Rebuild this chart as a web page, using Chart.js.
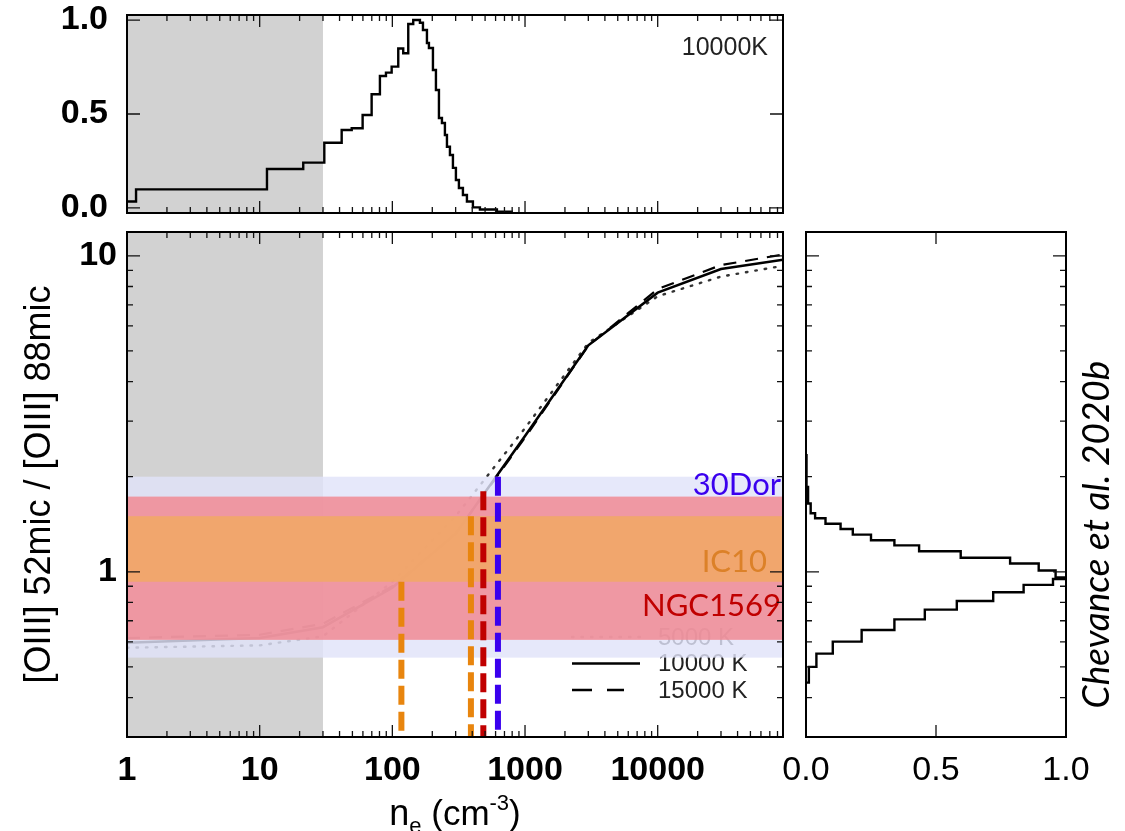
<!DOCTYPE html>
<html>
<head>
<meta charset="utf-8">
<title>[OIII] 52/88 density diagnostic</title>
<script src="https://cdn.jsdelivr.net/npm/chart.js@4.4.1/dist/chart.umd.min.js"></script>
<style>
  html, body { margin: 0; padding: 0; background: #fff; }
  #wrap { position: relative; width: 1125px; height: 831px; }
  #wrap canvas { position: absolute; left: 0; top: 0; }
</style>
</head>
<body>
<div id="wrap">
  <canvas id="top" width="1125" height="831"></canvas>
  <canvas id="main" width="1125" height="831"></canvas>
  <canvas id="side" width="1125" height="831"></canvas>
</div>
<script>
/* ---------------------------------------------------------------- */
/*  data                                                            */
/* ---------------------------------------------------------------- */
// line ratio vs electron density for three temperatures
const neGrid   = [1, 10, 30, 100, 300, 1000, 3000, 10000, 30000, 88000];
const ratio5k  = [0.575, 0.585, 0.625, 0.93, 1.50, 2.85, 5.30, 7.45, 8.60, 9.30];
const ratio10k = [0.596, 0.617, 0.668, 0.89, 1.32, 2.69, 5.21, 7.65, 9.09, 9.72];
const ratio15k = [0.617, 0.632, 0.685, 0.90, 1.32, 2.66, 5.20, 7.85, 9.35, 10.1];

// density PDF (10000 K), bin edges in cm^-3 and normalised counts
const topEdges = [1, 1.17, 11.35, 21.3, 30.7, 41.5, 49.4, 59.7, 69.8, 80.6,
                  89.5, 98.8, 110.8, 120.8, 131.8, 143.7, 161.4, 170.1, 182.3, 188.7,
                  202.3, 213.1, 224.5, 236.5, 249, 258, 271.7, 286.2, 301.4, 317.5,
                  340.4, 364.9, 404.8, 457.2, 614, 810];
const topFrac  = [0.034, 0.099, 0.207, 0.241, 0.347, 0.415, 0.424, 0.495, 0.605, 0.702,
                  0.72, 0.752, 0.849, 0.823, 0.979, 1.0, 0.986, 0.947, 0.878, 0.851,
                  0.734, 0.628, 0.479, 0.452, 0.388, 0.326, 0.282, 0.213, 0.149, 0.106,
                  0.069, 0.034, 0.003, -0.008, -0.02];

// ratio PDF, bin edges in line ratio (top to bottom) and normalised counts
const sideEdges = [2.36, 1.857, 1.646, 1.532, 1.478, 1.420, 1.366, 1.311, 1.259, 1.212,
                   1.161, 1.108, 1.062, 1.009, 0.960, 0.949, 0.909, 0.862, 0.808, 0.759,
                   0.707, 0.654, 0.601, 0.551, 0.500, 0.446];
const sideFrac  = [0.002, 0.008, 0.018, 0.035, 0.075, 0.133, 0.180, 0.250, 0.340, 0.435,
                   0.595, 0.785, 0.895, 0.960, 1.000, 0.950, 0.837, 0.720, 0.580, 0.457,
                   0.340, 0.214, 0.103, 0.040, 0.011];

// observed ratio ranges per galaxy
const bandNames = ['30Dor', 'NGC1569', 'IC10'];
const bandLo    = [0.535, 0.609, 0.93];
const bandHi    = [2.0, 1.73, 1.5];

// densities
const markerNe  = [117, 391, 485, 625];
const markerTop = [0.93, 1.5, 1.8, 2.0];

const shadeNe   = [1, 30];          // low-density region
const xLabels   = [1, 10, 100, 1000, 10000];
const yLabels   = [1, 10];
const fracTicks = [0, 0.5, 1];

/* ---------------------------------------------------------------- */
/*  style                                                           */
/* ---------------------------------------------------------------- */
const FONT  = '"Liberation Sans", Arial, sans-serif';
const SANS2 = 'Lato, "Open Sans", sans-serif';
const SHADE = '#d2d2d2';
const bandFill    = ['rgba(224,227,249,0.82)', 'rgba(242,134,144,0.82)', 'rgba(242,169,98,0.82)'];
const markerColor = ['#e8850e', '#e8850e', '#c00000', '#3a00ee'];
const NE_MAX = 88000, R_MIN = 0.314, R_MAX = 11.9;

/* helper: decade / sub-decade ticks for log axes ------------------- */
function logTicks(min, max) {
  const major = [], minor = [];
  for (let e = Math.floor(Math.log10(min)); e <= Math.ceil(Math.log10(max)); e++) {
    for (let m = 1; m <= 9; m++) {
      const v = m * Math.pow(10, e);
      if (v < min * 0.999 || v > max * 1.001) continue;
      (m === 1 ? major : minor).push(v);
    }
  }
  return { major, minor };
}
const neTicks = logTicks(1, NE_MAX);
const rTicks  = logTicks(R_MIN, R_MAX);

/* helper: IDL-style box with inward ticks on all four sides -------- */
function framePlugin(spec) {
  return {
    id: 'frame',
    afterDraw(chart) {
      const { ctx, chartArea: a, scales } = chart;
      ctx.save();
      ctx.strokeStyle = '#111';
      ctx.lineWidth = 1.3;
      const vert = (vals, len) => vals.forEach(v => {
        const p = scales.x.getPixelForValue(v);
        if (p < a.left + 1 || p > a.right - 1) return;
        ctx.beginPath();
        ctx.moveTo(p, a.bottom); ctx.lineTo(p, a.bottom - len);
        ctx.moveTo(p, a.top);    ctx.lineTo(p, a.top + len);
        ctx.stroke();
      });
      const horiz = (vals, len) => vals.forEach(v => {
        const p = scales.y.getPixelForValue(v);
        if (p < a.top + 1 || p > a.bottom - 1) return;
        ctx.beginPath();
        ctx.moveTo(a.left, p);  ctx.lineTo(a.left + len, p);
        ctx.moveTo(a.right, p); ctx.lineTo(a.right - len, p);
        ctx.stroke();
      });
      vert(spec.x.major, 12);  vert(spec.x.minor, 6);
      horiz(spec.y.major, 13); horiz(spec.y.minor, 6);
      ctx.lineWidth = 2;
      ctx.strokeStyle = '#000';
      ctx.strokeRect(a.left, a.top, a.right - a.left, a.bottom - a.top);
      ctx.restore();
    }
  };
}

function shadePlugin() {
  return {
    id: 'shade',
    beforeDatasetsDraw(chart) {
      const { ctx, chartArea: a, scales: { x } } = chart;
      const x0 = x.getPixelForValue(shadeNe[0]), x1 = x.getPixelForValue(shadeNe[1]);
      ctx.save();
      ctx.fillStyle = SHADE;
      ctx.fillRect(x0, a.top, x1 - x0, a.bottom - a.top);
      ctx.restore();
    }
  };
}

const fixTicks = list => s => { s.ticks = list.map(v => ({ value: v })); };
const fitW = w => s => { s.width = w; s.paddingTop = 0; s.paddingBottom = 0; };
const fitH = h => s => { s.height = h; s.paddingLeft = 0; s.paddingRight = 0; };
const tickFont = { family: FONT, size: 34, weight: 'bold', lineHeight: 1.2 };
const baseOpts = {
  responsive: false,
  animation: false,
  events: [],
  plugins: { legend: { display: false }, tooltip: { enabled: false } }
};

/* ================================================================ */
/*  1. density PDF (top)                                            */
/* ================================================================ */
const topPts = topEdges.slice(0, -1).map((e, i) => ({ x: e, y: topFrac[i] }));
topPts.push({ x: topEdges.at(-1), y: topFrac.at(-1) });

new Chart(document.getElementById('top'), {
  type: 'line',
  data: { datasets: [{ data: topPts, stepped: 'before', borderColor: '#000', borderWidth: 2.4, pointRadius: 0 }] },
  options: {
    ...baseOpts,
    layout: { padding: { left: 27, right: 342, top: 15, bottom: 618 } },
    scales: {
      x: { type: 'logarithmic', min: 1, max: NE_MAX, display: false, afterFit: fitH(0) },
      y: {
        type: 'linear', min: -0.027, max: 1.027,
        grid: { display: false, drawTicks: false }, border: { display: false },
        afterBuildTicks: fixTicks(fracTicks), afterFit: fitW(100),
        ticks: { font: tickFont, color: '#000', padding: 19, callback: v => v.toFixed(1) }
      }
    }
  },
  plugins: [
    shadePlugin(),
    framePlugin({ x: neTicks, y: { major: fracTicks, minor: [] } }),
    {
      id: 'tempTag',
      afterDraw(chart) {
        const { ctx, chartArea: a } = chart;
        ctx.save();
        ctx.font = `25px ${FONT}`;
        ctx.fillStyle = '#222';
        ctx.textAlign = 'right';
        ctx.textBaseline = 'alphabetic';
        ctx.fillText('10000K', a.right - 15, a.top + 40);
        ctx.restore();
      }
    }
  ]
});

/* ================================================================ */
/*  2. ratio vs density (main)                                      */
/* ================================================================ */
const curve = vals => neGrid.map((n, i) => ({ x: n, y: vals[i] }));
const legendRows = [
  { text: '5000 K',  dash: [1.5, 8], width: 2.4, color: '#444', len: 68 },
  { text: '10000 K', dash: [],       width: 2.6, color: '#000', len: 68 },
  { text: '15000 K', dash: [20, 15], width: 2.6, color: '#000', len: 52 }
];
const bandText = [
  { color: '#3a00ee', at: 1.94, inset: 2 },
  { color: '#c00000', at: 0.80, inset: 2 },
  { color: '#dc8128', at: 1.106, inset: 16 }
];

function drawXTitle(ctx, cx, base) {
  const parts = [
    { t: 'n',    size: 36, dy: 0 },
    { t: 'e',    size: 22, dy: 8 },
    { t: ' (cm', size: 35, dy: 0 },
    { t: '-3',   size: 22, dy: -15 },
    { t: ')',    size: 35, dy: 0 }
  ];
  let total = 0;
  parts.forEach(p => { ctx.font = `${p.size}px ${FONT}`; p.w = ctx.measureText(p.t).width; total += p.w; });
  let x = cx - total / 2;
  ctx.textAlign = 'left';
  ctx.textBaseline = 'alphabetic';
  parts.forEach(p => { ctx.font = `${p.size}px ${FONT}`; ctx.fillText(p.t, x, base + p.dy); x += p.w; });
}

new Chart(document.getElementById('main'), {
  type: 'line',
  data: {
    datasets: [
      { label: '10000 K', data: curve(ratio10k), borderColor: '#000', borderWidth: 2.6, pointRadius: 0 },
      { label: '15000 K', data: curve(ratio15k), borderColor: '#000', borderWidth: 2.2, borderDash: [13, 9], pointRadius: 0 },
      { label: '5000 K',  data: curve(ratio5k),  borderColor: '#333', borderWidth: 2.4, borderDash: [1.5, 8],
        borderCapStyle: 'round', pointRadius: 0 }
    ]
  },
  options: {
    ...baseOpts,
    layout: { padding: { left: 27, right: 342, top: 232, bottom: 0 } },
    scales: {
      x: {
        type: 'logarithmic', min: 1, max: NE_MAX,
        grid: { display: false, drawTicks: false }, border: { display: false },
        afterBuildTicks: fixTicks(xLabels), afterFit: fitH(94),
        ticks: { font: tickFont, color: '#000', padding: 13, maxRotation: 0, autoSkip: false, callback: v => String(v) }
      },
      y: {
        type: 'logarithmic', min: R_MIN, max: R_MAX,
        grid: { display: false, drawTicks: false }, border: { display: false },
        afterBuildTicks: fixTicks(yLabels), afterFit: fitW(100),
        ticks: { font: tickFont, color: '#000', padding: 10, callback: v => String(v) }
      }
    }
  },
  plugins: [
    shadePlugin(),
    {
      id: 'overlay',
      afterDatasetsDraw(chart) {
        const { ctx, chartArea: a, scales: { x, y } } = chart;
        ctx.save();

        /* legend (sits under the bands) */
        legendRows.forEach((row, i) => {
          const yy = a.bottom - 100 + i * 26.5;
          ctx.strokeStyle = row.color;
          ctx.lineWidth = row.width;
          ctx.lineCap = row.dash.length && row.dash[0] < 3 ? 'round' : 'butt';
          ctx.setLineDash(row.dash);
          ctx.beginPath(); ctx.moveTo(a.right - 211, yy); ctx.lineTo(a.right - 211 + row.len, yy); ctx.stroke();
          ctx.setLineDash([]);
          ctx.font = `24px ${FONT}`;
          ctx.fillStyle = '#222';
          ctx.textAlign = 'left';
          ctx.textBaseline = 'middle';
          ctx.fillText(row.text, a.right - 125, yy + 1);
        });
        ctx.lineCap = 'butt';

        /* observed ratio ranges */
        bandLo.forEach((lo, i) => {
          const yTop = y.getPixelForValue(bandHi[i]), yBot = y.getPixelForValue(lo);
          ctx.fillStyle = bandFill[i];
          ctx.fillRect(a.left, yTop, a.right - a.left, yBot - yTop);
        });

        /* read-off densities */
        ctx.lineWidth = 6;
        ctx.setLineDash([19, 7]);
        markerNe.forEach((n, i) => {
          const px = x.getPixelForValue(n);
          ctx.strokeStyle = markerColor[i];
          ctx.beginPath();
          ctx.moveTo(px, y.getPixelForValue(markerTop[i]));
          ctx.lineTo(px, a.bottom);
          ctx.stroke();
        });
        ctx.setLineDash([]);

        /* galaxy names */
        ctx.font = `31px ${SANS2}`;
        ctx.textAlign = 'right';
        ctx.textBaseline = 'middle';
        bandNames.forEach((name, i) => {
          ctx.fillStyle = bandText[i].color;
          ctx.fillText(name, a.right - bandText[i].inset, y.getPixelForValue(bandText[i].at) + 4);
        });
        ctx.restore();
      },
      afterDraw(chart) {
        const { ctx, chartArea: a } = chart;
        ctx.save();
        ctx.fillStyle = '#000';
        drawXTitle(ctx, (a.left + a.right) / 2, 825);
        ctx.translate(40, (a.top + a.bottom) / 2);
        ctx.rotate(-Math.PI / 2);
        ctx.font = `36px ${FONT}`;
        ctx.textAlign = 'center';
        ctx.textBaseline = 'middle';
        ctx.fillText('[OIII] 52mic / [OIII] 88mic', 0, 0);
        ctx.restore();
      }
    },
    framePlugin({ x: neTicks, y: rTicks })
  ]
});

/* ================================================================ */
/*  3. ratio PDF (right)                                            */
/* ================================================================ */
const sidePts = [{ x: 0, y: sideEdges[0] }];
sideFrac.forEach((v, i) => sidePts.push({ x: v, y: sideEdges[i] }, { x: v, y: sideEdges[i + 1] }));
sidePts.push({ x: 0, y: sideEdges.at(-1) });

new Chart(document.getElementById('side'), {
  type: 'scatter',
  data: { datasets: [{ data: sidePts, showLine: true, borderColor: '#000', borderWidth: 2.4, pointRadius: 0 }] },
  options: {
    ...baseOpts,
    layout: { padding: { left: 806, right: 59, top: 232, bottom: 0 } },
    scales: {
      x: {
        type: 'linear', min: 0, max: 1,
        grid: { display: false, drawTicks: false }, border: { display: false },
        afterBuildTicks: fixTicks(fracTicks), afterFit: fitH(94),
        ticks: { font: { ...tickFont, weight: 'normal' }, color: '#000', padding: 13, maxRotation: 0, autoSkip: false,
                 callback: v => v.toFixed(1) }
      },
      y: { type: 'logarithmic', min: R_MIN, max: R_MAX, display: false, afterFit: fitW(0) }
    }
  },
  plugins: [
    framePlugin({ x: { major: fracTicks, minor: [] }, y: rTicks }),
    {
      id: 'credit',
      afterDraw(chart) {
        const { ctx, chartArea: a } = chart;
        ctx.save();
        ctx.translate(1097, (a.top + a.bottom) / 2 + 50);
        ctx.rotate(-Math.PI / 2);
        ctx.font = `italic 37px ${SANS2}`;
        ctx.fillStyle = '#000';
        ctx.textAlign = 'center';
        ctx.textBaseline = 'middle';
        ctx.fillText('Chevance et al. 2020b', 0, 0);
        ctx.restore();
      }
    }
  ]
});
</script>
</body>
</html>
